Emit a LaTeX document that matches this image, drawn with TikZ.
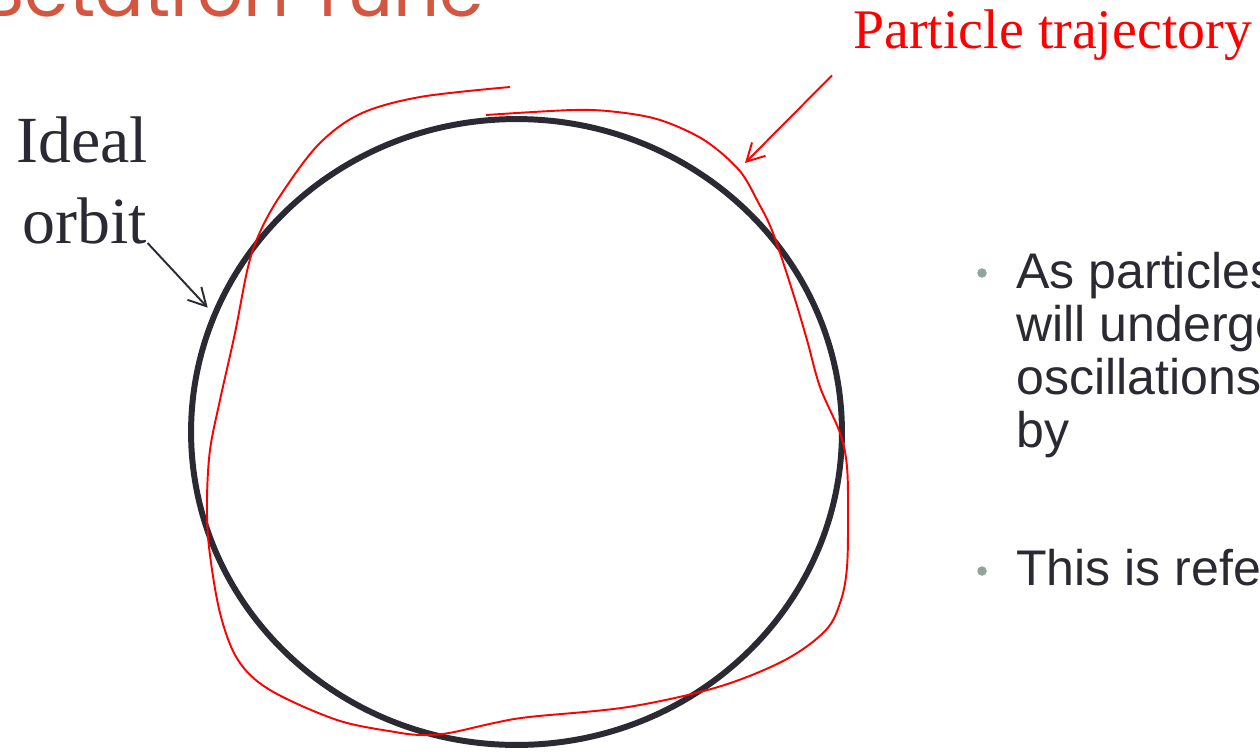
\documentclass[tikz,border=0pt]{standalone}
\usepackage{fontspec}
\setmainfont{Liberation Serif}
\setsansfont{Liberation Sans}
\newfontfamily\titlefont{Poppins}
\usepackage{tikz}
\usetikzlibrary{arrows.meta,positioning,shapes.geometric}
\definecolor{slidetitle}{HTML}{D35641}
\definecolor{ink}{HTML}{2B2A33}
\definecolor{dotgrey}{HTML}{90A49A}

\begin{document}
\begin{tikzpicture}[
    x=0.02cm, y=-0.02cm,
    ring/.style={draw=ink,line width=3.4pt,ellipse,inner sep=0pt,minimum width=13.02cm,minimum height=12.52cm},
    traj/.style={red,line width=1.1pt},
    lbl/.style={inner sep=0pt,text=ink,font=\fontsize{37.5}{40}\selectfont},
    redlbl/.style={inner sep=0pt,text=red,font=\fontsize{31.8}{34}\selectfont},
    bullettext/.style={inner sep=0pt,text=ink,align=left,font=\sffamily\fontsize{28.5}{30}\selectfont},
    bulletdot/.style={circle,fill=dotgrey,inner sep=0pt,minimum size=0.19cm},
    arr/.style={->,>={Straight Barb[length=3.5mm,width=3.8mm]},line width=1.1pt}
]
\useasboundingbox (0,0) rectangle (1260,751);

% slide title, cut by the top edge
\node[inner sep=0pt,anchor=base east,text=slidetitle,font=\titlefont\fontsize{41}{44}\selectfont] (title) at (485,16) {Betatron Tune};

% ideal orbit and trajectory
\node[ring] (ring) at (516.5,432) {};
\draw[traj] plot[smooth,tension=0.55] coordinates {
    (486,115) (573,110) (617,112) (660,120) (704,140) (739,170) (758,202)
    (773,233) (793,293) (807,340) (820,387) (840,433) (847,467) (848,517)
    (847,567) (841,600) (826,630) (785,660) (718,687) (628,707) (529,717)
    (494,723) (449,733) (422,735) (395,732) (337,720) (270,690) (238,660)
    (220,613) (209,547) (207,500) (210,450) (220,400) (235,333) (248,267)
    (260,232) (280,196) (318,145) (360,114) (420,97) (510,87)};
\coordinate (hit) at (745,163);

% labels
\node[lbl,anchor=base] (ideal) at (82,162) {Ideal};
\node[lbl,anchor=base] (orbit) at (85,243) {orbit};
\node[redlbl,anchor=base west] (ptlabel) at (853,48) {Particle trajectory};

\draw[arr,ink] (orbit.base east) -- ([shift={(-1.2mm,0.4mm)}]ring.158) ;
\draw[arr,red] ([xshift=-0.42cm,yshift=-0.3cm]ptlabel.south west) -- (hit);

% bullets, cut by the right edge
\node[bulletdot] (dot1) at (982,273) {};
\node[bullettext,anchor=base west] (txt1) at (1016,447) {As particles\\will undergo\\oscillations\\by};
\node[bulletdot] (dot2) at (982,571) {};
\node[bullettext,anchor=base west] (txt2) at (1016,585) {This is refer};
\end{tikzpicture}
\end{document}
